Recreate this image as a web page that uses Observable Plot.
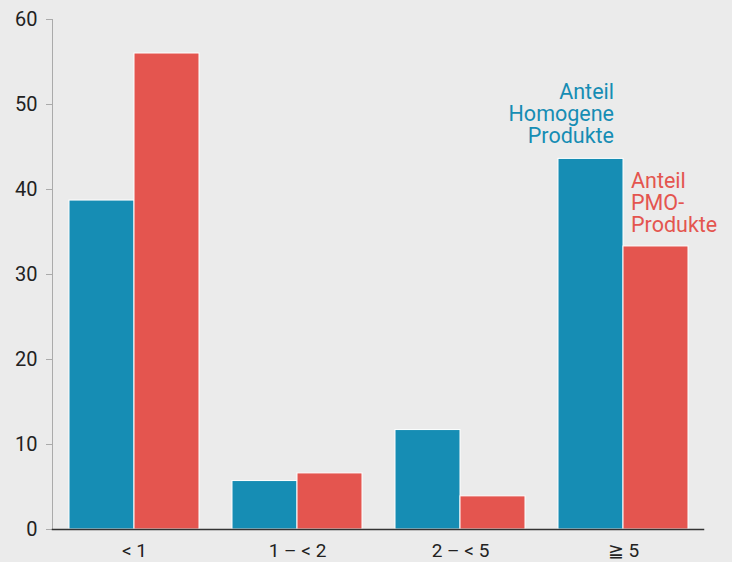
<!DOCTYPE html>
<html>
<head>
<meta charset="utf-8">
<script src="https://cdn.jsdelivr.net/npm/d3@7"></script>
<script src="https://cdn.jsdelivr.net/npm/@observablehq/plot@0.6"></script>
<style>
  html, body { margin: 0; padding: 0; background: #ebebeb; }
  #chart svg { display: block; }
</style>
</head>
<body>
<div id="chart"></div>
<script>
const groups = ["< 1", "1 – < 2", "2 – < 5", "≧ 5"];
const series = ["Homogene", "PMO"];
const homogene = [38.7, 5.7, 11.7, 43.6];
const pmo = [56.0, 6.6, 3.9, 33.3];
const yTicks = [0, 10, 20, 30, 40, 50, 60];
const seriesLabels = ["Anteil\nHomogene\nProdukte", "Anteil\nPMO-\nProdukte"];
const colors = ["#168db4", "#e4554f"];

const rows = [];
groups.forEach((g, i) => {
  rows.push({group: g, series: series[0], value: homogene[i]});
  rows.push({group: g, series: series[1], value: pmo[i]});
});
const last = groups.length - 1;
const labels = [
  {group: groups[last], series: series[0], value: homogene[last], text: seriesLabels[0]},
  {group: groups[last], series: series[1], value: pmo[last], text: seriesLabels[1]}
];

const font = "Roboto, 'Liberation Sans', sans-serif";

const chart = Plot.plot({
  width: 732,
  height: 562,
  marginLeft: 68,
  marginRight: 42,
  marginTop: 19,
  marginBottom: 33,
  style: {background: "#ebebeb", fontFamily: font, fontSize: "20px", color: "#222"},
  fx: {domain: groups, paddingInner: 0.2, paddingOuter: 0, label: null, axis: null},
  x: {domain: series, padding: 0, axis: null},
  y: {domain: [0, 60], nice: false, label: null, axis: null},
  color: {domain: series, range: colors},
  marks: [
    Plot.frame({anchor: "left", stroke: "#aaaaaa", insetLeft: -17, facet: "super"}),
    Plot.axisY({ticks: yTicks, tickSize: 6, tickPadding: 9, dx: -17, stroke: "#aaaaaa", color: "#222", fontSize: 20, label: null}),
    Plot.axisFx({anchor: "bottom", tickSize: 0, tickPadding: 14, fontSize: 19, color: "#222", label: null}),
    Plot.barY(rows, {fx: "group", x: "series", y: "value", fill: "series", stroke: "white", strokeWidth: 1}),
    Plot.frame({anchor: "bottom", stroke: "#333", strokeWidth: 1.5, insetLeft: -17, insetRight: -15, facet: "super"}),
    Plot.text(labels.slice(0, 1), {fx: "group", x: "series", y: "value", text: "text",
      textAnchor: "end", lineAnchor: "bottom", dx: 23, dy: -16, fill: colors[0], fontSize: 21.5, lineHeight: 1.03}),
    Plot.text(labels.slice(1), {fx: "group", x: "series", y: "value", text: "text",
      textAnchor: "start", lineAnchor: "bottom", dx: -25, dy: -14, fill: colors[1], fontSize: 21.5, lineHeight: 1.03})
  ]
});
document.getElementById("chart").appendChild(chart);
</script>
</body>
</html>
